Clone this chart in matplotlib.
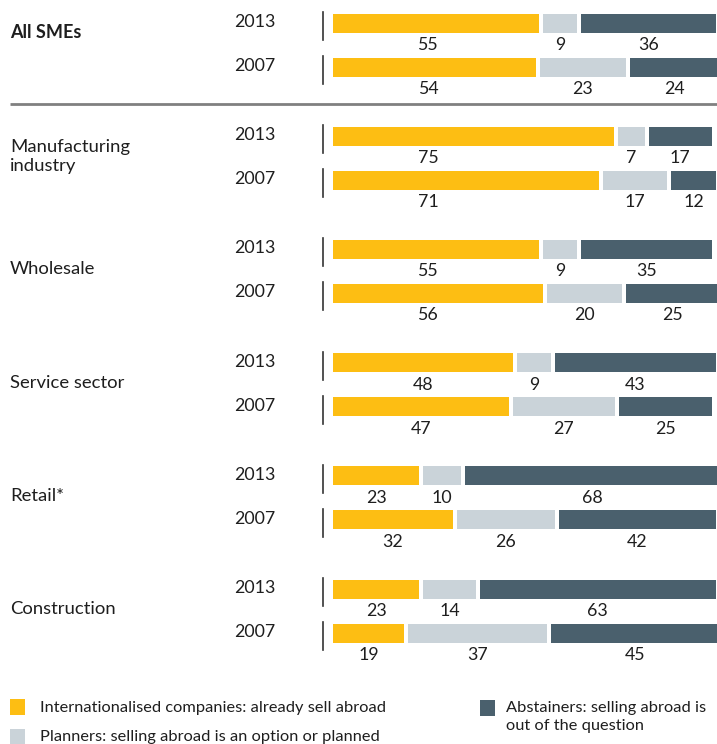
import matplotlib.pyplot as plt
import numpy as np

plt.rcParams['font.family'] = ['Lato', 'DejaVu Sans']

# data (percent)
sectors = ['All SMEs', 'Manufacturing\nindustry', 'Wholesale', 'Service sector', 'Retail*', 'Construction']
years = ['2013', '2007']
intl_2013 = [55, 75, 55, 48, 23, 23]
plan_2013 = [9, 7, 9, 9, 10, 14]
abst_2013 = [36, 17, 35, 43, 68, 63]
intl_2007 = [54, 71, 56, 47, 32, 19]
plan_2007 = [23, 17, 20, 27, 26, 37]
abst_2007 = [24, 12, 25, 25, 42, 45]
legend_labels = ['Internationalised companies: already sell abroad',
                 'Planners: selling abroad is an option or planned',
                 'Abstainers: selling abroad is\nout of the question']

colors = ['#fdbe13', '#cad3d9', '#4a606d']
txt = '#1e1e1e'

W, H = 717, 744
x0 = 333          # pixel where the bars start
ppu = 3.75        # pixels per percent
gap = 4 / ppu

fig = plt.figure(figsize=(W / 100, H / 100), dpi=100)
ax = fig.add_axes([0, 0, 1, 1])
ax.set_xlim(-x0 / ppu, (W - x0) / ppu)
ax.set_ylim(H, 0)
ax.axis('off')


def px(x):
    return (x - x0) / ppu


rows = {'2013': (intl_2013, plan_2013, abst_2013),
        '2007': (intl_2007, plan_2007, abst_2007)}

for i, name in enumerate(sectors):
    ytop = 23 + 113.2 * i
    for j, yr in enumerate(years):
        yc = ytop + 44 * j
        vals = [s[i] for s in rows[yr]]
        left = 0
        for k, v in enumerate(vals):
            ax.barh(yc, v, left=left, height=19, color=colors[k], linewidth=0)
            cx = left + v / 2
            if k == 0:
                cx = min(cx, 25.3)
            ax.text(cx, yc + 22, str(v), ha='center', va='center', fontsize=12.8, color=txt)
            left += v + gap
        ax.text(px(275), yc - 1, yr, ha='right', va='center', fontsize=12.8, color=txt)
        ax.plot([px(323), px(323)], [yc - 11, yc + 17], color='#333333', lw=1.2)
    if i == 0:
        ax.text(px(10), ytop + 9, name, ha='left', va='center', fontsize=13,
                fontweight='bold', color=txt)
    else:
        ax.text(px(10), ytop + 20, name, ha='left', va='center', fontsize=13.3,
                color=txt, linespacing=1.25)

# separator under the total
ax.plot([px(10), px(717)], [104, 104], color='#808080', lw=2, solid_capstyle='butt')

# legend
leg = [(10, 707, 40, 708), (10, 737, 40, 737), (480, 708, 506, 717)]
for k, (sx, sy, tx, ty) in enumerate(leg):
    ax.add_patch(plt.Rectangle((px(sx), sy - 8), 15 / ppu, 16, color=colors[k], lw=0))
    ax.text(px(tx), ty, legend_labels[k], ha='left', va='center', fontsize=11.8,
            color=txt, linespacing=1.3)

fig.savefig('out.png', dpi=100)
